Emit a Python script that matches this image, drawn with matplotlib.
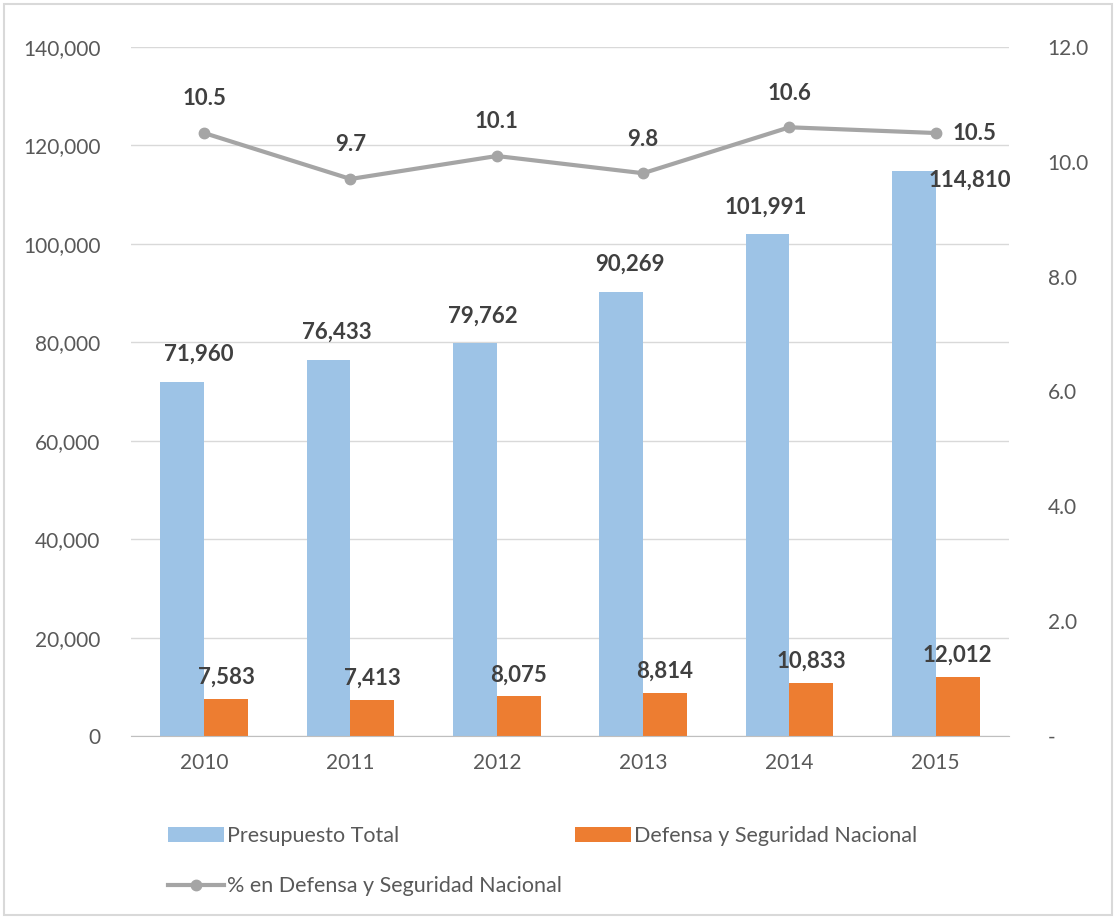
import numpy as np
import matplotlib.pyplot as plt
from matplotlib.ticker import FuncFormatter

plt.rcParams['font.family'] = ['Lato', 'DejaVu Sans']

years = ["2010", "2011", "2012", "2013", "2014", "2015"]
presupuesto_total = [71960, 76433, 79762, 90269, 101991, 114810]
defensa = [7583, 7413, 8075, 8814, 10833, 12012]
pct_defensa = [10.5, 9.7, 10.1, 9.8, 10.6, 10.5]

blue = "#9dc3e6"
orange = "#ed7d31"
grey = "#a5a5a5"
text_col = "#595959"
label_col = "#404040"

fig = plt.figure(figsize=(11.16, 9.19), dpi=100)
ax = fig.add_axes([0.1174, 0.199, 0.7866, 0.75])
ax2 = ax.twinx()

x = np.arange(len(years))
w = 0.30
b1 = ax.bar(x - w / 2, presupuesto_total, w, color=blue, label="Presupuesto Total", zorder=2)
b2 = ax.bar(x + w / 2, defensa, w, color=orange, label="Defensa y Seguridad Nacional", zorder=2)

ax.set_ylim(0, 140000)
ax.set_yticks(np.arange(0, 140001, 20000))
ax.yaxis.set_major_formatter(FuncFormatter(lambda v, p: f"{int(v):,}"))
ax.set_xlim(-0.5, len(years) - 0.5)
ax.set_xticks(x)
ax.set_xticklabels(years)
ax.grid(axis="y", color="#d9d9d9", linewidth=1, zorder=0)
ax.set_axisbelow(True)
for s in ["top", "left", "right"]:
    ax.spines[s].set_visible(False)
ax.spines["bottom"].set_color("#bfbfbf")
ax.tick_params(axis="both", length=0, labelsize=15, colors=text_col, pad=12)
ax.tick_params(axis="y", pad=22)

ln, = ax2.plot(x, pct_defensa, color=grey, linewidth=3, marker="o", markersize=7.5,
               label="% en Defensa y Seguridad Nacional", zorder=3)
ax2.set_ylim(0, 12)
ax2.set_yticks(np.arange(0, 12.1, 2))
ax2.yaxis.set_major_formatter(FuncFormatter(lambda v, p: "-" if v == 0 else f"{v:.1f}"))
for s in ["top", "left", "right", "bottom"]:
    ax2.spines[s].set_visible(False)
ax2.tick_params(axis="y", length=0, labelsize=15, colors=text_col, pad=28)

# data labels
blue_offsets = [(12, 12), (6, 12), (6, 12), (6, 12), (-1, 12), (40, -14)]
for i, v in enumerate(presupuesto_total):
    ax.annotate(f"{v:,}", (x[i] - w / 2, v), xytext=blue_offsets[i], textcoords="offset points",
                ha="center", va="bottom", fontsize=16, fontweight="bold", color=label_col)
for i, v in enumerate(defensa):
    ax.annotate(f"{v:,}", (x[i] + w / 2, v), xytext=(0, 8), textcoords="offset points",
                ha="center", va="bottom", fontsize=16, fontweight="bold", color=label_col)
for i, v in enumerate(pct_defensa):
    if i == len(pct_defensa) - 1:
        ax2.annotate(f"{v}", (x[i], v), xytext=(12, 0), textcoords="offset points",
                     ha="left", va="center", fontsize=16, fontweight="bold", color=label_col)
    else:
        ax2.annotate(f"{v}", (x[i], v), xytext=(0, 17), textcoords="offset points",
                     ha="center", va="bottom", fontsize=16, fontweight="bold", color=label_col)

fig.legend([b1, ln, b2], ["Presupuesto Total", "% en Defensa y Seguridad Nacional",
                          "Defensa y Seguridad Nacional"],
           loc="upper left", bbox_to_anchor=(0.133, 0.122), ncol=2, frameon=False,
           fontsize=15.5, labelcolor=text_col, handlelength=2.6, handletextpad=0.15,
           columnspacing=0.6, labelspacing=1.4)

fig.patches.append(plt.Rectangle((0.004, 0.004), 0.992, 0.992, transform=fig.transFigure,
                                 fill=False, edgecolor="#d9d9d9", linewidth=1.5))

fig.savefig("out.png", dpi=100)
